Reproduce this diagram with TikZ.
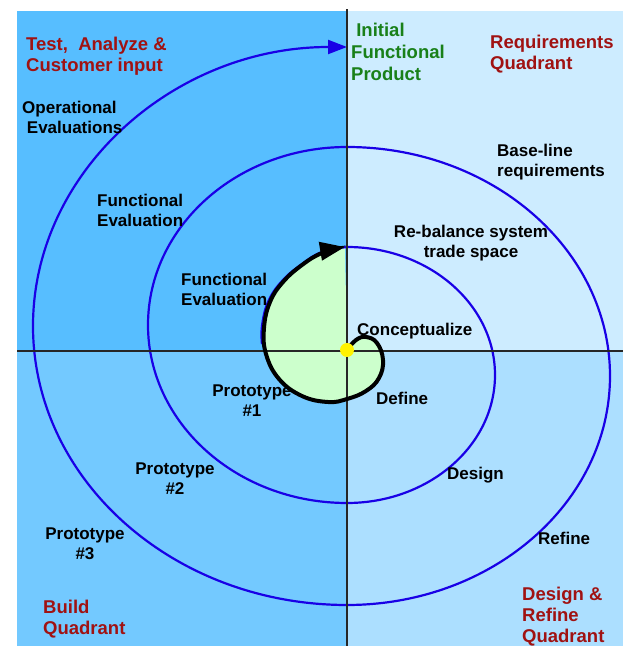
\documentclass[tikz,border=0pt]{standalone}
\usepackage{fontspec}
\setmainfont{Liberation Sans}
\usetikzlibrary{arrows.meta}
\definecolor{qtl}{RGB}{87,190,255}
\definecolor{qtr}{RGB}{205,236,255}
\definecolor{qbl}{RGB}{115,201,255}
\definecolor{qbr}{RGB}{172,223,255}
\definecolor{spiralblue}{RGB}{25,0,230}
\definecolor{titlered}{RGB}{160,18,18}
\definecolor{prodgreen}{RGB}{25,128,25}
\definecolor{coregreen}{RGB}{204,255,204}
\newcommand{\mycorepath}{plot[smooth, tension=0.7] coordinates {(347,296) (356,306) (366,309) (377,303) (383,286) (379,268) (366,255) (347,247) (328,244) (302,250) (279,267) (266,292) (264,318) (270,344) (283,364) (302,381) (322,393) (345,399)}}
\begin{document}
\begin{tikzpicture}[x=1pt,y=1pt,
  lbl/.style={inner sep=0pt, font=\bfseries\fontsize{17}{20}\selectfont, text=black},
  ttl/.style={inner sep=0pt, font=\bfseries\fontsize{18.5}{21}\selectfont, text=titlered, align=left, anchor=north west},
  grn/.style={inner sep=0pt, font=\bfseries\fontsize{18.5}{22}\selectfont, text=prodgreen, align=left, anchor=north west},
  spiral/.style={draw=spiralblue, line width=2.2pt},
  axisline/.style={draw=black!85, line width=2pt},
  core/.style={draw=black, line width=4pt}]
\useasboundingbox (0,0) rectangle (623,646);
\fill[white] (0,0) rectangle (623,646);
\fill[qtl] (17,295) rectangle (347,635);
\fill[qtr] (347,295) rectangle (623,635);
\fill[qbl] (17,0) rectangle (347,295);
\fill[qbr] (347,0) rectangle (623,295);
% green core
\fill[coregreen] \mycorepath -- cycle;
% blue spiral
\draw[spiral, -{Triangle[length=19pt,width=14pt]}]
  plot[smooth, tension=0.7] coordinates {(262,302) (262,320) (268,344) (282,365) (302,382) (322,394) (347,399)}
  arc[start angle=90, end angle=-90, x radius=148, y radius=128]
  arc[start angle=270, end angle=90, x radius=199, y radius=178]
  arc[start angle=90, end angle=-90, x radius=263, y radius=229]
  arc[start angle=270, end angle=90, x radius=314, y radius=279];
% axes
\draw[axisline] (17,295) -- (623,295);
\draw[axisline] (347,0) -- (347,637);
% black core spiral
\draw[core, -{Triangle[length=25pt,width=18pt]}] \mycorepath;
\fill[yellow] (347,296) circle (7);
% titles
\node[ttl] (tl) at (26,609) {Test,\ \ Analyze \&\\Customer input};
\node[grn] (ifp) at (351,623) {\ Initial\\Functional\\Product};
\node[ttl] (rq) at (490,611) {Requirements\\Quadrant};
\node[ttl] (bq) at (43,46) {Build\\Quadrant};
\node[ttl] (drq) at (522,59) {Design \&\\Refine\\Quadrant};
% labels
\node[lbl, align=left, anchor=north west] (oe) at (22,545) {Operational\\\ Evaluations};
\node[lbl, align=left, anchor=north west] (fe2) at (97,452) {Functional\\Evaluation};
\node[lbl, align=left, anchor=north west] (fe1) at (181,373) {Functional\\Evaluation};
\node[lbl, align=left, anchor=north west] (bl) at (497,502) {Base-line\\requirements};
\node[lbl, align=center, anchor=north] (rb) at (471,421) {Re-balance system\\trade space};
\node[lbl, anchor=north west] (cz) at (357,323) {Conceptualize};
\node[lbl, anchor=north west] (df) at (376,254) {Define};
\node[lbl, anchor=north west] (dg) at (447,179) {Design};
\node[lbl, anchor=north west] (rf) at (538,114) {Refine};
\node[lbl, align=center, anchor=north] (p1) at (252,261) {Prototype\\\#1};
\node[lbl, align=center, anchor=north] (p2) at (175,183) {Prototype\\\#2};
\node[lbl, align=center, anchor=north] (p3) at (85,118) {Prototype\\\#3};
\end{tikzpicture}
\end{document}
